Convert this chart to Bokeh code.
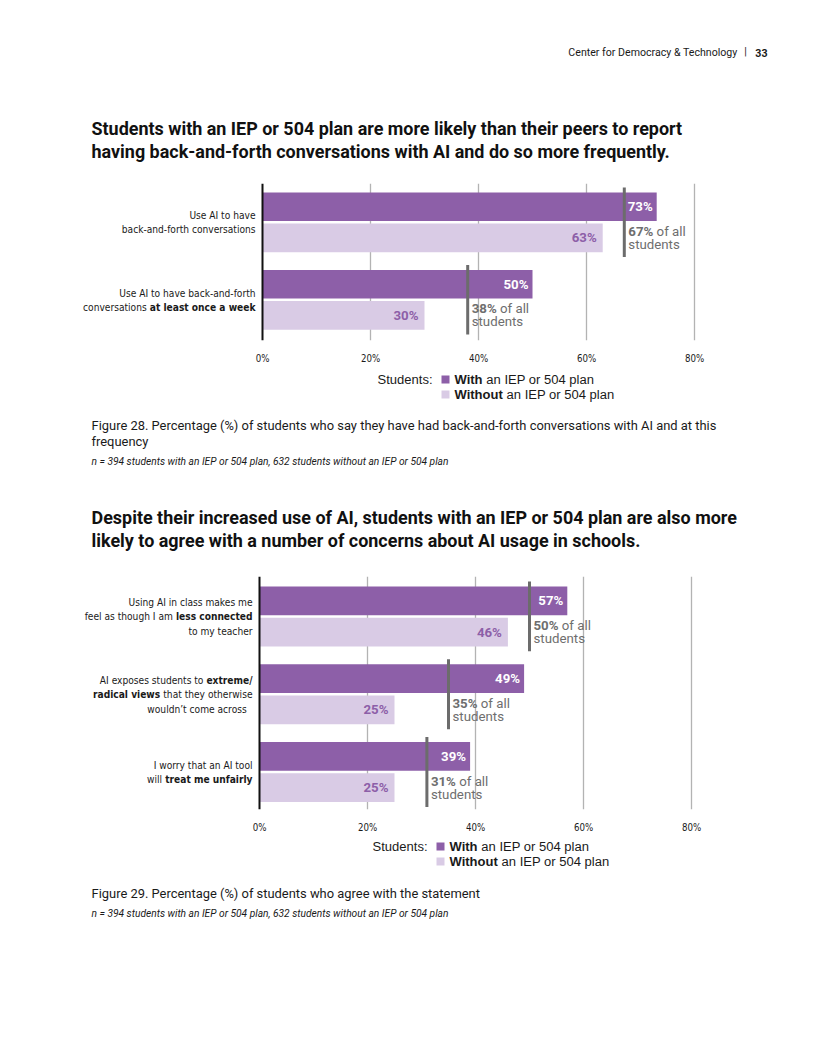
import glob, os, struct
import numpy as np
from bokeh.plotting import figure
from bokeh.models import Range1d, FixedTicker
from bokeh.layouts import column
from bokeh.core.properties import value
from bokeh.embed import file_html
from bokeh.resources import INLINE

# ---------------- data ----------------
header_org = "Center for Democracy & Technology"
header_page = "33"

title1 = ["Students with an IEP or 504 plan are more likely than their peers to report",
          "having back-and-forth conversations with AI and do so more frequently."]
cats1 = ["Use AI to have back-and-forth conversations",
         "Use AI to have back-and-forth conversations at least once a week"]
labels1 = [
    [[("Use AI to have", False)], [("back-and-forth conversations", False)]],
    [[("Use AI to have back-and-forth", False)], [("conversations ", False), ("at least once a week", True)]],
]
with1 = [73, 50]
without1 = [63, 30]
all1 = [67, 38]
caption1 = ["Figure 28. Percentage (%) of students who say they have had back-and-forth conversations with AI and at this",
            "frequency"]
note1 = "n = 394 students with an IEP or 504 plan, 632 students without an IEP or 504 plan"

title2 = ["Despite their increased use of AI, students with an IEP or 504 plan are also more",
          "likely to agree with a number of concerns about AI usage in schools."]
cats2 = ["Using AI in class makes me feel as though I am less connected to my teacher",
         "AI exposes students to extreme/radical views that they otherwise wouldn't come across",
         "I worry that an AI tool will treat me unfairly"]
labels2 = [
    [[("Using AI in class makes me", False)], [("feel as though I am ", False), ("less connected", True)],
     [("to my teacher", False)]],
    [[("AI exposes students to ", False), ("extreme/", True)],
     [("radical views", True), (" that they otherwise", False)], [("wouldn\u2019t come across  ", False)]],
    [[("I worry that an AI tool", False)], [("will ", False), ("treat me unfairly", True)]],
]
with2 = [57, 49, 39]
without2 = [46, 25, 25]
all2 = [50, 35, 31]
caption2 = ["Figure 29. Percentage (%) of students who agree with the statement"]
note2 = "n = 394 students with an IEP or 504 plan, 632 students without an IEP or 504 plan"

ticks = [0, 20, 40, 60, 80]
tick_labels = ["0%", "20%", "40%", "60%", "80%"]
legend_title = "Students:"
series = ["With", "Without"]
series_suffix = " an IEP or 504 plan"
all_text = [" of all", "students"]

# ---------------- styles ----------------
DARK = "#8d5fa8"
LIGHT = "#d9cbe5"
AVG = "#6c6c6c"
AVG_TXT = "#6e6e6e"
GRID = "#b3b3b3"
INK = "#1a1a1a"
PXP = 5.4  # px per percent


# ---------------- font metrics (for mixed bold/regular runs) ----------------
def find_font(names):
    for n in names:
        for root in ["/usr/share/fonts", "/usr/local/share/fonts", os.path.expanduser("~/.fonts"),
                     os.path.expanduser("~/.local/share/fonts")]:
            hits = glob.glob(os.path.join(root, "**", n), recursive=True)
            if hits:
                return sorted(hits)[0]
    return None


class Metric:
    def __init__(self, path, fallback=0.52):
        self.ok = False
        self.fallback = fallback
        self.cache = {}
        if not path:
            return
        try:
            d = open(path, "rb").read()
            base = 0
            if d[:4] == b"ttcf":
                base = struct.unpack(">I", d[12:16])[0]
            nt = struct.unpack(">H", d[base + 4:base + 6])[0]
            tb = {}
            for i in range(nt):
                tag, cs, off, ln = struct.unpack(">4sIII", d[base + 12 + 16 * i:base + 28 + 16 * i])
                tb[tag.decode("latin1")] = off
            self.upem = struct.unpack(">H", d[tb["head"] + 18:tb["head"] + 20])[0]
            self.nhm = struct.unpack(">H", d[tb["hhea"] + 34:tb["hhea"] + 36])[0]
            h = tb["hmtx"]
            self.adv = [struct.unpack(">H", d[h + 4 * i:h + 4 * i + 2])[0] for i in range(self.nhm)]
            c = tb["cmap"]
            n = struct.unpack(">H", d[c + 2:c + 4])[0]
            sub = None
            for i in range(n):
                pid, eid, off = struct.unpack(">HHI", d[c + 4 + 8 * i:c + 12 + 8 * i])
                fmt = struct.unpack(">H", d[c + off:c + off + 2])[0]
                if fmt == 4:
                    sub = c + off
                    if pid == 3:
                        break
            s2 = struct.unpack(">H", d[sub + 6:sub + 8])[0]
            sc = s2 // 2
            self.ends = struct.unpack(">%dH" % sc, d[sub + 14:sub + 14 + s2])
            self.starts = struct.unpack(">%dH" % sc, d[sub + 16 + s2:sub + 16 + 2 * s2])
            self.deltas = struct.unpack(">%dh" % sc, d[sub + 16 + 2 * s2:sub + 16 + 3 * s2])
            self.rpos = sub + 16 + 3 * s2
            self.roffs = struct.unpack(">%dH" % sc, d[self.rpos:self.rpos + s2])
            self.d = d
            self.sc = sc
            self.ok = True
        except Exception:
            self.ok = False

    def gid(self, ch):
        for i in range(self.sc):
            if self.starts[i] <= ch <= self.ends[i]:
                if self.roffs[i] == 0:
                    return (ch + self.deltas[i]) & 0xFFFF
                p = self.rpos + 2 * i + self.roffs[i] + 2 * (ch - self.starts[i])
                g = struct.unpack(">H", self.d[p:p + 2])[0]
                return (g + self.deltas[i]) & 0xFFFF if g else 0
        return 0

    def width(self, s, size):
        if not self.ok:
            return self.fallback * size * len(s)
        tot = 0
        for ch in s:
            if ch not in self.cache:
                g = self.gid(ord(ch))
                self.cache[ch] = self.adv[min(g, self.nhm - 1)]
            tot += self.cache[ch]
        return tot * size / self.upem


def fit(m, text, target, default):
    if not m.ok:
        return default
    return target / m.width(text, 1.0)


if find_font(["LiberationSansNarrow-Regular.ttf"]):
    COND = "Liberation Sans Narrow"
    cond_r = Metric(find_font(["LiberationSansNarrow-Regular.ttf"]))
    cond_b = Metric(find_font(["LiberationSansNarrow-Bold.ttf"]))
elif find_font(["DejaVuSansCondensed.ttf"]):
    COND = "DejaVu Sans Condensed"
    cond_r = Metric(find_font(["DejaVuSansCondensed.ttf"]))
    cond_b = Metric(find_font(["DejaVuSansCondensed-Bold.ttf"]))
else:
    COND = "Roboto"
    cond_r = Metric(find_font(["Roboto-Regular.ttf"]))
    cond_b = Metric(find_font(["Roboto-Bold.ttf"]))

ROB = "Roboto"
rob_r = Metric(find_font(["Roboto-Regular.ttf"]))
rob_b = Metric(find_font(["Roboto-Bold.ttf"]), 0.56)
rob_i = Metric(find_font(["Roboto-Italic.ttf", "Roboto-Regular.ttf"]))
ARI = "Liberation Sans"
ari_r = Metric(find_font(["LiberationSans-Regular.ttf"]))
ari_b = Metric(find_font(["LiberationSans-Bold.ttf"]), 0.58)

S_TITLE = fit(rob_b, title1[0], 592, 17.0)
S_CAP = fit(rob_r, caption1[0], 626, 12.5)
S_NOTE = fit(rob_i, note1, 357, 9.0)
S_CAT = fit(cond_r, "back-and-forth conversations", 134, 11.5)
S_LEG = fit(ari_r, legend_title, 55, 12.0)
S_HEAD = fit(rob_r, header_org, 170, 10.0)
S_VAL = fit(rob_b, "73%", 25, 12.5)
S_AVG = S_VAL


def px(s):
    return "%.2fpx" % s


def put(p, x, y, txt, font, size, color, align="left", bold=False, italic=False, xoff=0):
    style = "bold" if bold else ("italic" if italic else "normal")
    p.text(x=[x], y=[y], text=[txt], x_offset=xoff, text_align=align, text_baseline="middle",
           text_font=value(font), text_font_size=px(size), text_font_style=style, text_color=color)


def runs(p, x, y, segs, align, font, mr, mb, size, color, xoff=0.0, bold_color=None):
    if align == "right":
        cur = xoff
        for txt, b in reversed(segs):
            m = mb if b else mr
            core = txt.strip()
            trail = m.width(txt[len(txt.rstrip()):], size)
            if core:
                put(p, x, y, core, font, size, (bold_color or color) if b else color, "right", b, xoff=cur - trail)
            cur -= m.width(txt, size)
    else:
        cur = xoff
        for txt, b in segs:
            m = mb if b else mr
            core = txt.strip()
            lead = m.width(txt[:len(txt) - len(txt.lstrip())], size)
            if core:
                put(p, x, y, core, font, size, (bold_color or color) if b else color, "left", b, xoff=cur + lead)
            cur += m.width(txt, size)


def text_fig(top, bottom):
    p = figure(width=800, height=bottom - top, x_range=Range1d(0, 800), y_range=Range1d(bottom, top),
               x_axis_location=None, y_axis_location=None, min_border=0,
               toolbar_location=None, output_backend="svg")
    p.grid.visible = False
    p.outline_line_color = None
    p.background_fill_color = "white"
    p.border_fill_color = "white"
    return p


def legend(p, x_sq, y1):
    put(p, x_sq - 13, y1, legend_title, ARI, S_LEG, INK, "right")
    for k, (name, col) in enumerate(zip(series, [DARK, LIGHT])):
        yy = y1 + 15 * k
        p.rect(x=[x_sq], y=[yy], width=8, height=8, fill_color=col, line_color=None)
        runs(p, x_sq + 9, yy, [(name, True), (series_suffix, False)], "left", ARI, ari_r, ari_b, S_LEG, INK)


BAR_H = 29
BAR_PITCH = 31.5


def chart(labels, wv, wov, av, ftop, fbot, x0, first_top, gpitch):
    p = figure(width=800, height=(fbot - ftop) + 24,
               x_range=Range1d((0 - x0) / PXP, (800 - x0) / PXP), y_range=Range1d(fbot, ftop),
               y_axis_location=None, min_border_left=0, min_border_right=0, min_border_top=0,
               min_border_bottom=24, toolbar_location=None, output_backend="svg")
    p.grid.visible = False
    p.outline_line_color = None
    p.border_fill_color = "white"
    ax = p.xaxis[0]
    ax.ticker = FixedTicker(ticks=ticks)
    ax.major_label_overrides = {t: l for t, l in zip(ticks, tick_labels)}
    ax.axis_line_color = None
    ax.major_tick_line_color = None
    ax.minor_tick_line_color = None
    ax.major_label_standoff = 6
    ax.major_label_text_font = COND
    ax.major_label_text_font_size = px(S_CAT * 0.95)
    ax.major_label_text_color = INK

    n = len(wv)
    idx = np.arange(n)
    y_w = first_top + idx * gpitch + BAR_H / 2
    y_wo = y_w + BAR_PITCH
    gl = ticks[1:]
    p.segment(x0=gl, x1=gl, y0=[ftop] * len(gl), y1=[fbot] * len(gl), line_color=GRID, line_width=1.3)
    p.hbar(y=y_w, left=0, right=wv, height=BAR_H, fill_color=DARK, line_color=None)
    p.hbar(y=y_wo, left=0, right=wov, height=BAR_H, fill_color=LIGHT, line_color=None)
    p.segment(x0=[ticks[0]], x1=[ticks[0]], y0=[ftop], y1=[fbot], line_color="#111111", line_width=2)
    p.segment(x0=av, x1=av, y0=y_w - BAR_H / 2 - 5, y1=y_wo + BAR_H / 2 + 5, line_color=AVG, line_width=3)
    p.text(x=wv, y=y_w, text=["%d%%" % v for v in wv], x_offset=-4, text_align="right",
           text_baseline="middle", text_font=value(ROB), text_font_size=px(S_VAL),
           text_font_style="bold", text_color="white")
    p.text(x=wov, y=y_wo, text=["%d%%" % v for v in wov], x_offset=-6, text_align="right",
           text_baseline="middle", text_font=value(ROB), text_font_size=px(S_VAL),
           text_font_style="bold", text_color=DARK)
    for i in range(n):
        runs(p, av[i], y_wo[i] - 6.5, [("%d%%" % av[i], True), (all_text[0], False)], "left", ROB,
             rob_r, rob_b, S_AVG, AVG_TXT, xoff=4)
        put(p, av[i], y_wo[i] + 6.5, all_text[1], ROB, S_AVG, AVG_TXT, "left", xoff=4)
        lines = labels[i]
        gc = (y_w[i] - BAR_H / 2 + y_wo[i] + BAR_H / 2) / 2 + 0.5
        ls = 14.5
        for k, segs in enumerate(lines):
            yy = gc + (k - (len(lines) - 1) / 2) * ls
            runs(p, 0, yy, segs, "right", COND, cond_r, cond_b, S_CAT, INK, xoff=-7)
    return p


# ---------------- top ----------------
top = text_fig(0, 183)
put(top, 767, 52, header_page, ROB, S_HEAD, INK, "right", bold=True)
put(top, 745, 51, "|", ROB, S_HEAD, INK, "center")
put(top, 737, 52, header_org, ROB, S_HEAD, INK, "right")
for k, t in enumerate(title1):
    put(top, 91, 128 + 23 * k, t, ROB, S_TITLE, "#111111", "left", bold=True)

c1 = chart(labels1, with1, without1, all1, 183, 342, 262, 192, 78.5)

mid = text_fig(366, 576)
legend(mid, 445, 379)
for k, t in enumerate(caption1):
    put(mid, 91, 425 + 16 * k, t, ROB, S_CAP, INK)
put(mid, 91, 461, note1, ROB, S_NOTE, INK, italic=True)
for k, t in enumerate(title2):
    put(mid, 91, 517 + 23 * k, t, ROB, S_TITLE, "#111111", "left", bold=True)

c2 = chart(labels2, with2, without2, all2, 576, 811, 259, 586, 78.5)

bot = text_fig(835, 1040)
legend(bot, 440, 846)
for k, t in enumerate(caption2):
    put(bot, 91, 893 + 16 * k, t, ROB, S_CAP, INK)
put(bot, 91, 913, note2, ROB, S_NOTE, INK, italic=True)

page = column(top, c1, mid, c2, bot, spacing=0)
open("out.html", "w").write(file_html(page, INLINE))
